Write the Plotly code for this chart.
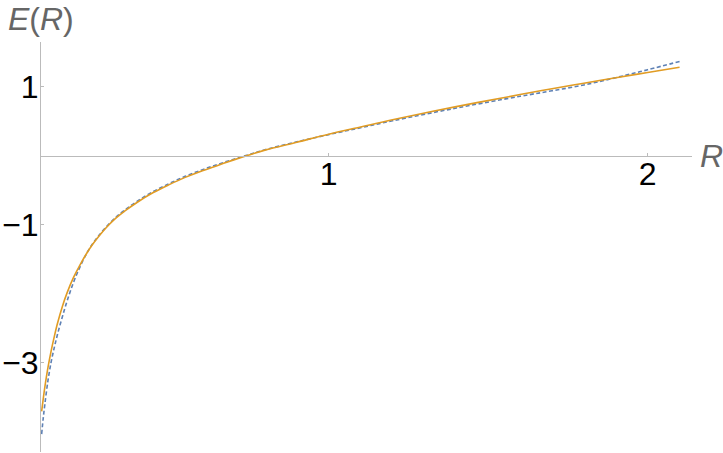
import plotly.graph_objects as go

# R sample positions
R_vals = [0.100, 0.105, 0.110, 0.120, 0.130, 0.140, 0.150, 0.165, 0.180, 0.200,
          0.220, 0.240, 0.260, 0.280, 0.300, 0.330, 0.360, 0.400, 0.450, 0.500,
          0.550, 0.600, 0.650, 0.700, 0.750, 0.800, 0.900, 1.000, 1.100, 1.200,
          1.400, 1.600, 1.700, 1.800, 1.900, 2.000, 2.100]
# orange solid series
E_solid = [-3.70, -3.52, -3.35, -3.06, -2.82, -2.61, -2.42, -2.18, -1.98, -1.76,
           -1.58, -1.42, -1.28, -1.16, -1.05, -0.91, -0.80, -0.67, -0.53, -0.415,
           -0.31, -0.22, -0.14, -0.06, 0.015, 0.085, 0.20, 0.315, 0.42, 0.525,
           0.715, 0.89, 0.975, 1.055, 1.135, 1.21, 1.285]
# blue dotted series
E_dotted = [-4.03, -3.80, -3.60, -3.25, -2.98, -2.77, -2.58, -2.33, -2.10, -1.83,
            -1.61, -1.42, -1.27, -1.15, -1.04, -0.90, -0.785, -0.655, -0.515, -0.40,
            -0.295, -0.205, -0.125, -0.05, 0.02, 0.09, 0.205, 0.31, 0.41, 0.51,
            0.695, 0.865, 0.945, 1.03, 1.135, 1.25, 1.37]

x_ticks = [1, 2]
y_ticks = [-3, -1, 1]

x_range = [0.098, 2.139]
y_range = [-4.29, 1.652]

fig = go.Figure()
fig.add_trace(go.Scatter(x=R_vals, y=E_dotted, mode="lines", line_shape="spline",
                         line=dict(color="#5E81B5", width=1.6, dash="4px,2.5px"),
                         showlegend=False, hoverinfo="skip"))
fig.add_trace(go.Scatter(x=R_vals, y=E_solid, mode="lines", line_shape="spline",
                         line=dict(color="#E19C24", width=1.6),
                         showlegend=False, hoverinfo="skip"))

x_axis_pos = (0 - y_range[0]) / (y_range[1] - y_range[0])

tick_font = dict(family="Liberation Sans, Arial, sans-serif", size=32, color="black")
label_font = dict(family="Liberation Sans, Arial, sans-serif", size=32, color="#666666")

fig.update_layout(
    width=723, height=453,
    margin=dict(l=41, r=31, t=42, b=1, pad=0),
    paper_bgcolor="white", plot_bgcolor="white",
    xaxis=dict(range=x_range, tickvals=x_ticks, ticktext=[str(v) for v in x_ticks],
               showgrid=False, zeroline=False, showline=True, linecolor="#BBBBBB",
               linewidth=1, ticks="inside", ticklen=3, tickcolor="#BBBBBB",
               tickfont=tick_font, anchor="free", position=x_axis_pos,
               automargin=False, ticklabelstandoff=-10),
    yaxis=dict(range=y_range, tickvals=y_ticks,
               showgrid=False, zeroline=False, showline=True, linecolor="#BBBBBB",
               linewidth=1, ticks="inside", ticklen=3, tickcolor="#BBBBBB",
               tickfont=tick_font, automargin=False, ticklabelstandoff=-5),
    annotations=[
        dict(text="<i>E</i>(<i>R</i>)", xref="paper", yref="paper", x=0, y=1,
             xanchor="center", yanchor="bottom", showarrow=False, yshift=3,
             font=label_font),
        dict(text="<i>R</i>", xref="paper", yref="paper", x=1, y=x_axis_pos,
             xanchor="left", yanchor="middle", showarrow=False, xshift=6,
             font=label_font),
    ],
)

fig.write_html("out.html", config={"displayModeBar": False},
               post_script="document.body.style.margin='0';")
